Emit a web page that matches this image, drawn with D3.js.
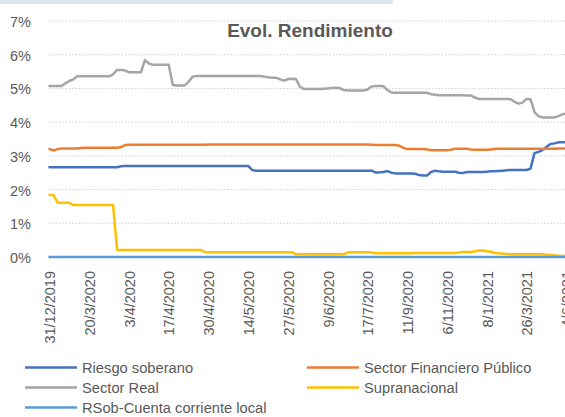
<!DOCTYPE html>
<html>
<head>
<meta charset="utf-8">
<script src="https://cdn.jsdelivr.net/npm/d3@7"></script>
<style>
  html, body { margin: 0; padding: 0; background: #fff; }
  body { width: 565px; height: 417px; overflow: hidden; }
  text { font-family: 'Liberation Sans', Arial, sans-serif; fill: #595959; }
</style>
</head>
<body>
<div id="chart"></div>
<script>
// one point per trading day bucket, a date label every 10 points
let tickLabels = ['31/12/2019', '20/3/2020', '3/4/2020', '17/4/2020', '30/4/2020', '14/5/2020',
  '27/5/2020', '9/6/2020', '17/7/2020', '11/9/2020', '6/11/2020', '8/1/2021', '26/3/2021', '4/6/2021']
let labelStep = 10

let riesgoSoberano = [
  2.66, 2.66, 2.66, 2.66, 2.66, 2.66, 2.66, 2.66, 2.66, 2.66,
  2.66, 2.66, 2.66, 2.66, 2.66, 2.66, 2.66, 2.66, 2.69, 2.70,
  2.70, 2.70, 2.70, 2.70, 2.70, 2.70, 2.70, 2.70, 2.70, 2.70,
  2.70, 2.70, 2.70, 2.70, 2.70, 2.70, 2.70, 2.70, 2.70, 2.70,
  2.70, 2.70, 2.70, 2.70, 2.70, 2.70, 2.70, 2.70, 2.70, 2.70,
  2.70, 2.58, 2.56, 2.56, 2.56, 2.56, 2.56, 2.56, 2.56, 2.56,
  2.56, 2.56, 2.56, 2.56, 2.56, 2.56, 2.56, 2.56, 2.56, 2.56,
  2.56, 2.56, 2.56, 2.56, 2.56, 2.56, 2.56, 2.56, 2.56, 2.56,
  2.56, 2.56, 2.51, 2.51, 2.52, 2.55, 2.50, 2.48, 2.48, 2.48,
  2.48, 2.48, 2.47, 2.43, 2.42, 2.42, 2.52, 2.56, 2.54, 2.53,
  2.53, 2.53, 2.53, 2.50, 2.49, 2.52, 2.52, 2.52, 2.52, 2.52,
  2.53, 2.54, 2.54, 2.55, 2.56, 2.57, 2.58, 2.58, 2.58, 2.58,
  2.58, 2.62, 3.08, 3.12, 3.17, 3.26, 3.35, 3.37, 3.40, 3.40,
  3.40, 3.40
]

let sectorFinanciero = [
  3.20, 3.16, 3.20, 3.22, 3.22, 3.22, 3.22, 3.22, 3.23, 3.24,
  3.24, 3.24, 3.24, 3.24, 3.24, 3.24, 3.24, 3.24, 3.26, 3.32,
  3.33, 3.33, 3.33, 3.33, 3.33, 3.33, 3.33, 3.33, 3.33, 3.33,
  3.33, 3.33, 3.33, 3.33, 3.33, 3.33, 3.33, 3.33, 3.33, 3.33,
  3.34, 3.34, 3.34, 3.34, 3.34, 3.34, 3.34, 3.34, 3.34, 3.34,
  3.34, 3.34, 3.34, 3.34, 3.34, 3.34, 3.34, 3.34, 3.34, 3.34,
  3.34, 3.34, 3.34, 3.34, 3.34, 3.34, 3.34, 3.34, 3.34, 3.34,
  3.34, 3.34, 3.34, 3.34, 3.34, 3.34, 3.34, 3.34, 3.34, 3.34,
  3.34, 3.33, 3.32, 3.32, 3.32, 3.32, 3.32, 3.32, 3.30, 3.24,
  3.20, 3.20, 3.20, 3.20, 3.20, 3.19, 3.17, 3.17, 3.17, 3.17,
  3.17, 3.18, 3.21, 3.21, 3.21, 3.21, 3.19, 3.18, 3.18, 3.18,
  3.18, 3.19, 3.20, 3.21, 3.21, 3.21, 3.21, 3.21, 3.21, 3.21,
  3.21, 3.21, 3.21, 3.21, 3.21, 3.21, 3.21, 3.21, 3.22, 3.22,
  3.22, 3.22
]

let sectorReal = [
  5.07, 5.07, 5.07, 5.07, 5.15, 5.22, 5.27, 5.36, 5.36, 5.36,
  5.36, 5.36, 5.36, 5.36, 5.36, 5.36, 5.42, 5.55, 5.55, 5.53,
  5.48, 5.48, 5.48, 5.48, 5.84, 5.74, 5.70, 5.70, 5.70, 5.70,
  5.70, 5.10, 5.09, 5.09, 5.09, 5.20, 5.35, 5.37, 5.37, 5.37,
  5.37, 5.37, 5.37, 5.37, 5.37, 5.37, 5.37, 5.37, 5.37, 5.37,
  5.37, 5.37, 5.37, 5.37, 5.35, 5.33, 5.32, 5.32, 5.27, 5.23,
  5.28, 5.29, 5.28, 5.05, 4.98, 4.98, 4.98, 4.98, 4.98, 4.99,
  5.00, 5.01, 5.02, 5.01, 4.95, 4.94, 4.94, 4.94, 4.94, 4.94,
  4.97, 5.06, 5.07, 5.07, 5.07, 4.95, 4.88, 4.87, 4.87, 4.87,
  4.87, 4.87, 4.87, 4.87, 4.87, 4.87, 4.83, 4.81, 4.80, 4.80,
  4.80, 4.80, 4.80, 4.80, 4.80, 4.79, 4.79, 4.73, 4.69, 4.69,
  4.69, 4.69, 4.69, 4.69, 4.69, 4.69, 4.68, 4.60, 4.55, 4.58,
  4.69, 4.68, 4.30, 4.18, 4.14, 4.14, 4.14, 4.14, 4.18, 4.23,
  4.26, 4.28
]

let supranacional = [
  1.84, 1.84, 1.62, 1.61, 1.61, 1.61, 1.54, 1.54, 1.54, 1.54,
  1.54, 1.54, 1.54, 1.54, 1.54, 1.54, 1.54, 0.21, 0.21, 0.21,
  0.21, 0.21, 0.21, 0.21, 0.21, 0.21, 0.21, 0.21, 0.21, 0.21,
  0.21, 0.21, 0.21, 0.21, 0.21, 0.21, 0.21, 0.21, 0.21, 0.15,
  0.14, 0.14, 0.14, 0.14, 0.14, 0.14, 0.14, 0.14, 0.14, 0.14,
  0.14, 0.14, 0.14, 0.14, 0.14, 0.14, 0.14, 0.14, 0.14, 0.14,
  0.14, 0.14, 0.08, 0.08, 0.08, 0.08, 0.08, 0.08, 0.08, 0.08,
  0.08, 0.08, 0.08, 0.08, 0.08, 0.13, 0.14, 0.14, 0.14, 0.14,
  0.14, 0.13, 0.11, 0.11, 0.11, 0.11, 0.11, 0.11, 0.11, 0.11,
  0.11, 0.11, 0.12, 0.12, 0.12, 0.12, 0.12, 0.12, 0.12, 0.12,
  0.12, 0.12, 0.12, 0.13, 0.15, 0.15, 0.15, 0.17, 0.19, 0.19,
  0.17, 0.16, 0.12, 0.11, 0.10, 0.09, 0.08, 0.08, 0.08, 0.08,
  0.08, 0.08, 0.08, 0.08, 0.08, 0.07, 0.06, 0.05, 0.04, 0.03,
  0.03, 0.02
]

let rsobCuentaCorriente = [
  0, 0, 0, 0, 0, 0, 0, 0, 0, 0,
  0, 0, 0, 0, 0, 0, 0, 0, 0, 0,
  0, 0, 0, 0, 0, 0, 0, 0, 0, 0,
  0, 0, 0, 0, 0, 0, 0, 0, 0, 0,
  0, 0, 0, 0, 0, 0, 0, 0, 0, 0,
  0, 0, 0, 0, 0, 0, 0, 0, 0, 0,
  0, 0, 0, 0, 0, 0, 0, 0, 0, 0,
  0, 0, 0, 0, 0, 0, 0, 0, 0, 0,
  0, 0, 0, 0, 0, 0, 0, 0, 0, 0,
  0, 0, 0, 0, 0, 0, 0, 0, 0, 0,
  0, 0, 0, 0, 0, 0, 0, 0, 0, 0,
  0, 0, 0, 0, 0, 0, 0, 0, 0, 0,
  0, 0, 0, 0, 0, 0, 0, 0, 0, 0,
  0, 0
]

let yTicks = [0, 1, 2, 3, 4, 5, 6, 7]

let series = [
  { name: 'Riesgo soberano', values: riesgoSoberano, color: '#4472C4' },
  { name: 'Sector Financiero Público', values: sectorFinanciero, color: '#ED7D31' },
  { name: 'Sector Real', values: sectorReal, color: '#A5A5A5' },
  { name: 'Supranacional', values: supranacional, color: '#FFC000' },
  { name: 'RSob-Cuenta corriente local', values: rsobCuentaCorriente, color: '#5B9BD5' }
]

let width = 565, height = 417

let svg = d3.select('#chart')
  .append('svg')
  .attr('width', width)
  .attr('height', height)

// light strip along the top edge
svg.append('rect')
  .attr('x', 0).attr('y', 0)
  .attr('width', 393).attr('height', 4)
  .attr('fill', '#dce6f2')

let x = d3.scaleLinear()
  .domain([0, (tickLabels.length - 1) * labelStep])
  .range([49.5, 566.3])
let y = d3.scaleLinear()
  .domain([0, 7])
  .range([257, 21])

// dotted gridlines
svg.append('g')
  .selectAll('line')
  .data(yTicks.filter(d => d > 0))
  .enter()
  .append('line')
  .attr('x1', 49)
  .attr('x2', width + 10)
  .attr('y1', d => y(d))
  .attr('y2', d => y(d))
  .attr('stroke', '#d0d0d0')
  .attr('stroke-width', 1)
  .attr('stroke-dasharray', '1.5 1.8')

let yAxis = d3.axisLeft(y)
  .tickValues(yTicks)
  .tickFormat(d => d + '%')
  .tickSize(0)
  .tickPadding(0)
svg.append('g')
  .attr('transform', 'translate(31, 0)')
  .call(yAxis)
  .call(g => g.select('.domain').remove())
  .selectAll('text')
  .attr('dy', '0.38em')
  .style('font-size', '14.5px')
  .style('font-family', "'Liberation Sans', Arial, sans-serif")
  .attr('fill', '#595959')

let xAxis = d3.axisBottom(x)
  .tickValues(tickLabels.map((d, i) => i * labelStep))
  .tickFormat((d, i) => tickLabels[i])
  .tickSize(0)
svg.append('g')
  .attr('transform', 'translate(0, 271)')
  .call(xAxis)
  .call(g => g.select('.domain').remove())
  .selectAll('text')
  .attr('transform', 'rotate(-90)')
  .attr('text-anchor', 'end')
  .attr('x', 0)
  .attr('y', 0)
  .attr('dy', '0.36em')
  .style('font-size', '14.5px')
  .style('font-family', "'Liberation Sans', Arial, sans-serif")
  .attr('fill', '#595959')

let line = d3.line()
  .x((d, i) => x(i))
  .y(d => y(d))

svg.append('g')
  .selectAll('path')
  .data(series)
  .enter()
  .append('path')
  .attr('d', d => line(d.values))
  .attr('fill', 'none')
  .attr('stroke', d => d.color)
  .attr('stroke-width', 2.5)
  .attr('stroke-linejoin', 'round')
  .attr('stroke-linecap', 'round')

svg.append('text')
  .attr('x', 310)
  .attr('y', 37)
  .attr('text-anchor', 'middle')
  .style('font-size', '19px')
  .style('font-weight', 'bold')
  .text('Evol. Rendimiento')

// legend, two columns
let legendPos = [[25, 367.5], [307, 367.5], [25, 387.5], [307, 387.5], [25, 407.5]]
let legend = svg.append('g')
  .selectAll('.leg')
  .data(series)
  .enter()
  .append('g')
  .attr('class', 'leg')
  .attr('transform', (d, i) => `translate(${legendPos[i][0]}, ${legendPos[i][1]})`)
legend.append('line')
  .attr('x1', 0).attr('x2', 52)
  .attr('stroke', d => d.color)
  .attr('stroke-width', 2.5)
legend.append('text')
  .attr('x', 57)
  .attr('dy', '0.36em')
  .style('font-size', '14.7px')
  .text(d => d.name)
</script>
</body>
</html>
